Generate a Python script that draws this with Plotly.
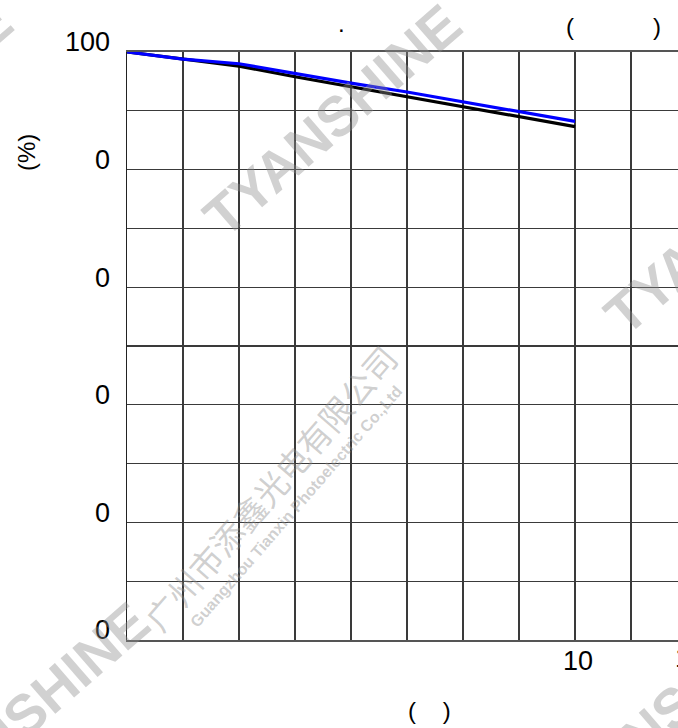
import plotly.graph_objects as go

# ---- data ----
x_pos = [0, 1, 2, 3, 4, 5, 6, 7, 8]
blue_vals = [100, 98.8, 98.0, 96.3, 94.7, 93.2, 91.5, 89.9, 88.2]
black_x = [0, 2, 3, 4, 5, 6, 7, 8]
black_vals = [100, 97.6, 95.8, 94.1, 92.5, 90.8, 89.1, 87.3]
y_tickvals = [100, 80, 60, 40, 20, 0]
y_ticktext = ["100", "0", "0", "0", "0", "0"]
x_tickvals = [8]
x_ticktext = ["10"]

W, H = 678, 728
L, R, T, B = 127, 0, 52, 88
PW, PH = W - L - R, H - T - B
FONT = "Arial, Liberation Sans, sans-serif"

def px(xp):
    return (xp - L) / PW

def py(yp):
    return (H - B - yp) / PH

fig = go.Figure()
fig.add_trace(go.Scatter(x=black_x, y=black_vals, mode="lines",
                         line=dict(color="#000000", width=3.2), showlegend=False))
fig.add_trace(go.Scatter(x=x_pos, y=blue_vals, mode="lines",
                         line=dict(color="#0000ff", width=3.2), showlegend=False))

annotations = []

def ann(text, xp, yp, size, color="black", family=FONT, angle=0, xanchor="center"):
    annotations.append(dict(text=text, x=px(xp), y=py(yp), xref="paper", yref="paper",
                            xanchor=xanchor, yanchor="middle", textangle=angle,
                            showarrow=False,
                            font=dict(size=size, color=color, family=family)))

NB = "\u00a0"
# title fragments
ann(".", 341, 24, 24)
ann("(", 570, 26, 24)
ann(")", 657, 26, 24)
# y-axis title
ann("(%)", 26, 153, 24, angle=-90)
# x-axis title
ann("(" + NB * 4 + ")", 429, 710, 24)
# cut-off tick label at right edge
ann("1", 673, 658, 27, xanchor="left")

# watermarks
wm_color = "rgba(140,140,140,0.40)"
for cx, cy in [(332, 120), (20, 718), (733, 218), (668, 712), (-117, 118)]:
    ann("<b>TYANSHINE</b>", cx, cy, 56, color=wm_color, angle=-41)
ann("广州市添鑫光电有限公司", 270, 488, 33, color="rgba(140,140,140,0.42)",
    family="Noto Sans CJK SC", angle=-49)
ann("<b>Guangzhou Tianxin Photoelectric Co.,Ltd</b>", 296, 506, 16,
    color="rgba(140,140,140,0.42)", angle=-49)

fig.update_layout(
    width=W, height=H,
    margin=dict(l=L, r=R, t=T, b=B, autoexpand=False),
    paper_bgcolor="white", plot_bgcolor="white",
    annotations=annotations,
    font=dict(family=FONT, color="black"),
)
fig.update_xaxes(range=[0, PW / 56.0], showgrid=True,
                 gridcolor="#3a3a3a", gridwidth=1.3, zeroline=False,
                 showline=True, linecolor="#555555", linewidth=2, mirror=True,
                 tickmode="array", tickvals=x_tickvals, ticktext=x_ticktext,
                 ticks="", tickfont=dict(size=27, family=FONT, color="black"),
                 ticklabelshift=3, ticklabelstandoff=-4,
                 minor=dict(dtick=1, tick0=0, showgrid=True, gridcolor="#3a3a3a",
                            gridwidth=1.3, ticks=""))
fig.update_yaxes(range=[0, 100], showgrid=True, gridcolor="#3a3a3a", gridwidth=1.3,
                 zeroline=False, showline=True, linecolor="#222222", linewidth=1.5,
                 tickmode="array", tickvals=y_tickvals, ticktext=y_ticktext,
                 ticks="", tickfont=dict(size=27, family=FONT, color="black"),
                 ticklabelshift=-10, ticklabelstandoff=10,
                 minor=dict(dtick=10, tick0=0, showgrid=True, gridcolor="#3a3a3a",
                            gridwidth=1.3, ticks=""))

fig.write_html("out.html",
               config={"displayModeBar": False, "staticPlot": True},
               post_script="document.body.style.margin='0px';"
                           "document.body.style.overflow='hidden';")
